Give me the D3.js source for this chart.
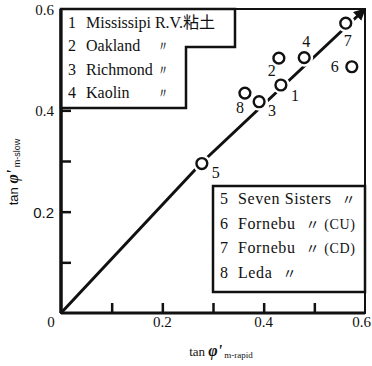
<!DOCTYPE html>
<html>
<head>
<meta charset="utf-8">
<script src="https://cdn.jsdelivr.net/npm/d3@7"></script>
<style>
  body { margin: 0; background: #fff; }
  text { fill: #111; }
</style>
</head>
<body>
<div id="chart"></div>
<script>
// values
const ids = [1, 2, 3, 4, 5, 6, 7, 8];
const rapid = [0.434, 0.430, 0.391, 0.480, 0.278, 0.574, 0.562, 0.363];
const slow = [0.450, 0.503, 0.417, 0.504, 0.295, 0.486, 0.572, 0.434];
const clays = ['Mississipi R.V.粘土', 'Oakland', 'Richmond', 'Kaolin',
  'Seven Sisters', 'Fornebu', 'Fornebu', 'Leda'];
const notes = ['', '〃', '〃', '〃', '〃', '〃 (CU)', '〃 (CD)', '〃'];
const lineRapid = [0, 0.278, 0.6];
const lineSlow = [0, 0.297, 0.6];
const tickValues = [0.1, 0.2, 0.3, 0.4, 0.5];
const xLabelValues = [0, 0.2, 0.4, 0.6];
const yLabelValues = [0.2, 0.4, 0.6];

const width = 372, height = 366;
const serif = '"Liberation Serif", "DejaVu Serif", serif';
const sans = '"Liberation Sans", Arial, sans-serif';
const cjk = '"Liberation Serif", "Noto Sans CJK JP", serif';

const x = d3.scaleLinear().domain([0, 0.6]).range([61, 365]);
const y = d3.scaleLinear().domain([0, 0.6]).range([313, 9]);

const svg = d3.select('#chart').append('svg')
  .attr('width', width)
  .attr('height', height);

svg.append('defs').append('marker')
  .attr('id', 'arrow')
  .attr('viewBox', '0 0 10 10')
  .attr('refX', 9).attr('refY', 5)
  .attr('markerWidth', 4).attr('markerHeight', 4)
  .attr('orient', 'auto')
  .append('path')
  .attr('d', 'M0,0 L10,5 L0,10 Z')
  .attr('fill', '#111');

// frame
svg.append('rect')
  .attr('x', x(0)).attr('y', y(0.6))
  .attr('width', x(0.6) - x(0)).attr('height', y(0) - y(0.6))
  .attr('fill', 'none').attr('stroke', '#111').attr('stroke-width', 2);

// inward ticks
const xAxis = d3.axisTop(x).tickValues(tickValues).tickSize(10).tickFormat('');
const yAxis = d3.axisRight(y).tickValues(tickValues).tickSize(10).tickFormat('');
svg.append('g').attr('transform', `translate(0,${y(0)})`).call(xAxis)
  .call(g => g.select('.domain').remove())
  .selectAll('line').attr('stroke', '#111').attr('stroke-width', 2.5);
svg.append('g').attr('transform', `translate(${x(0)},0)`).call(yAxis)
  .call(g => g.select('.domain').remove())
  .selectAll('line').attr('stroke', '#111').attr('stroke-width', 2.5);

// heavy axis lines
svg.append('line')
  .attr('x1', x(0)).attr('x2', x(0.6)).attr('y1', y(0)).attr('y2', y(0))
  .attr('stroke', '#111').attr('stroke-width', 3);
svg.append('line')
  .attr('x1', x(0)).attr('x2', x(0)).attr('y1', y(0)).attr('y2', y(0.6))
  .attr('stroke', '#111').attr('stroke-width', 3);

// tick labels
svg.selectAll('.xlab')
  .data(xLabelValues)
  .join('text')
  .attr('x', d => d === 0 ? x(0) - 10 : (d === 0.6 ? width - 1 : x(d)))
  .attr('y', 327)
  .attr('text-anchor', d => d === 0.6 ? 'end' : 'middle')
  .style('font-family', serif)
  .style('font-size', '15px')
  .text(d => d === 0 ? '0' : d.toFixed(1));

svg.selectAll('.ylab')
  .data(yLabelValues)
  .join('text')
  .attr('x', 54)
  .attr('y', d => y(d) + 6)
  .attr('text-anchor', 'end')
  .style('font-family', d => d === 0.2 ? sans : serif)
  .style('font-size', '15px')
  .text(d => d.toFixed(1));

// 1:1 line
const line = d3.line().x(d => x(d[0])).y(d => y(d[1]));
svg.append('path')
  .attr('d', line(lineRapid.map((v, i) => [v, lineSlow[i]])))
  .attr('fill', 'none')
  .attr('stroke', '#111')
  .attr('stroke-width', 3)
  .attr('marker-end', 'url(#arrow)');

// legend boxes
const upper = d3.path();
upper.moveTo(x(0), y(0.6));
upper.lineTo(235, y(0.6));
upper.lineTo(235, 47);
upper.lineTo(186, 47);
upper.lineTo(186, 108);
upper.lineTo(x(0), 108);
upper.closePath();
svg.append('path').attr('d', upper.toString())
  .attr('fill', '#fff').attr('stroke', '#111').attr('stroke-width', 2.5);

svg.append('rect')
  .attr('x', 213).attr('y', 186)
  .attr('width', x(0.6) - 213).attr('height', 106)
  .attr('fill', '#fff').attr('stroke', '#111').attr('stroke-width', 2.5);

// re-stroke axis over the box edge
svg.append('line')
  .attr('x1', x(0)).attr('x2', x(0)).attr('y1', y(0)).attr('y2', y(0.6))
  .attr('stroke', '#111').attr('stroke-width', 3);

const legendRows = ids.map((id, i) => ({ id, name: clays[i], note: notes[i], i }));

svg.selectAll('.leg')
  .data(legendRows)
  .join('g')
  .attr('transform', d => d.i < 4
    ? `translate(68,${28 + d.i * 23.3})`
    : `translate(220,${204 + (d.i - 4) * 24.5})`)
  .each(function (d) {
    const g = d3.select(this);
    g.append('text')
      .style('font-family', serif).style('font-size', '16px')
      .text(d.id);
    const t = g.append('text')
      .attr('x', 18)
      .style('font-family', cjk).style('font-size', '16px')
      .style('letter-spacing', d.i < 4 ? '0px' : '0.6px')
      .text(d.name);
    if (d.i < 4) {
      if (d.note) {
        g.append('text')
          .attr('x', 88)
          .style('font-family', serif).style('font-size', '14px')
          .text(d.note);
      }
    } else {
      t.append('tspan')
        .attr('dx', 10)
        .style('font-size', '14px')
        .text(d.note);
    }
  });

// points
const pts = ids.map((id, i) => ({ id, px: x(rapid[i]), py: y(slow[i]) }));
const labelOffset = {
  1: [14, 10], 2: [-7, 12], 3: [13, 9], 4: [2, -16],
  5: [14, 9], 6: [-17, 0], 7: [2, 17], 8: [-5, 14]
};

svg.selectAll('.halo')
  .data(pts)
  .join('circle')
  .attr('cx', d => d.px).attr('cy', d => d.py)
  .attr('r', 6)
  .attr('fill', '#fff')
  .attr('stroke', '#fff')
  .attr('stroke-width', 6);

svg.selectAll('.pt')
  .data(pts)
  .join('circle')
  .attr('cx', d => d.px).attr('cy', d => d.py)
  .attr('r', 5.4)
  .attr('fill', '#fff')
  .attr('stroke', '#111')
  .attr('stroke-width', 2.4);

svg.selectAll('.ptlab')
  .data(pts)
  .join('text')
  .attr('x', d => d.px + labelOffset[d.id][0])
  .attr('y', d => d.py + labelOffset[d.id][1] + 5.5)
  .attr('text-anchor', 'middle')
  .style('font-family', serif)
  .style('font-size', '16px')
  .text(d => d.id);

// axis titles
const xt = svg.append('text')
  .attr('x', 221).attr('y', 356)
  .attr('text-anchor', 'middle')
  .style('font-family', serif)
  .style('font-size', '13px');
xt.append('tspan').text('tan ');
xt.append('tspan').style('font-weight', 'bold').style('font-style', 'italic')
  .style('font-size', '16px').text("φ'");
xt.append('tspan').attr('dy', 2).style('font-size', '9px').text(' m-rapid');

const yt = svg.append('text')
  .attr('transform', 'translate(18,172) rotate(-90)')
  .attr('text-anchor', 'middle')
  .style('font-family', sans)
  .style('font-size', '13px');
yt.append('tspan').text('tan ');
yt.append('tspan').style('font-family', serif).style('font-weight', 'bold')
  .style('font-style', 'italic').style('font-size', '16px').text("φ'");
yt.append('tspan').attr('dy', 2).style('font-size', '9px').text(' m-slow');
</script>
</body>
</html>
